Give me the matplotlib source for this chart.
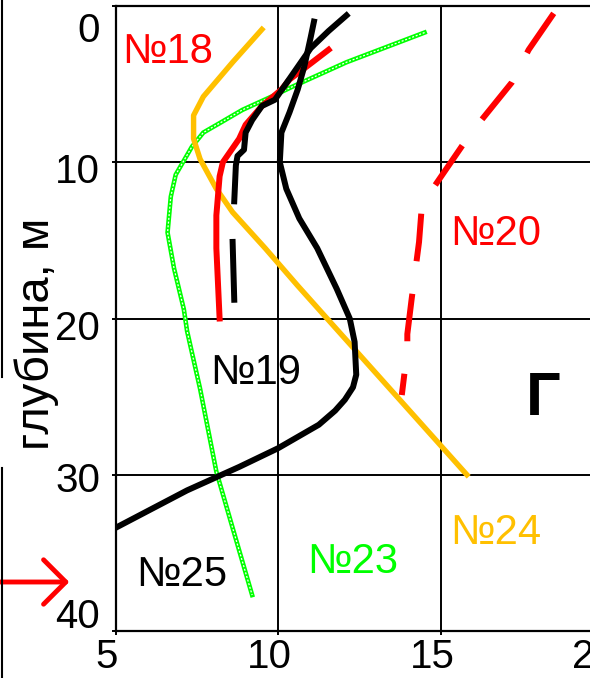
import matplotlib
matplotlib.use("Agg")
import matplotlib.pyplot as plt
import numpy as np
from matplotlib.lines import Line2D
from matplotlib.transforms import ScaledTranslation

plt.rcParams['font.family'] = ['Liberation Sans', 'DejaVu Sans']

# ── data: temperature (x) vs depth (y) ──────────────────────
t18 = [11.55, 11.05, 10.35, 10.1, 9.5, 9.0, 8.8, 8.5, 8.3, 8.2, 8.1, 8.1, 8.2]
d18 = [2.8, 3.6, 4.7, 5.35, 6.4, 7.6, 8.5, 9.4, 10.0, 10.9, 13.4, 15.5, 20.0]

t19 = [11.1, 11.0, 10.8, 10.6, 10.35, 10.1, 10.05, 10.25, 10.65, 11.2, 11.8,
       12.2, 12.35, 12.4, 12.3, 12.05, 11.75, 11.25, 10.0, 8.8, 7.2, 5.0]
d19 = [1.0, 2.0, 3.9, 5.35, 6.8, 8.1, 10.0, 11.7, 13.6, 15.5, 18.1,
       20.0, 21.5, 23.6, 24.4, 25.2, 25.9, 26.8, 28.3, 29.5, 31.0, 33.4]

t20 = [18.47, 17.7, 17.18, 16.17, 15.77, 14.42, 14.33, 14.1, 13.97, 13.97, 13.9, 13.8]
d20 = [0.47, 2.8, 4.9, 7.5, 8.6, 12.7, 15.1, 18.8, 21.0, 22.7, 23.2, 24.9]

t23 = [14.5, 12.1, 10.4, 9.9, 8.9, 8.2, 7.7, 7.35, 6.85, 6.7, 6.6, 6.8,
       7.1, 7.2, 7.6, 8.1, 8.6, 9.2]
d23 = [1.7, 3.6, 5.2, 5.7, 6.65, 7.5, 8.1, 9.0, 10.8, 12.2, 14.5, 16.8,
       19.4, 20.8, 24.5, 29.8, 33.4, 37.7]

t24 = [9.5, 8.6, 7.7, 7.4, 7.4, 7.6, 8.1, 8.6, 9.6, 10.6, 15.8]
d24 = [1.5, 3.6, 5.8, 7.0, 8.5, 9.8, 11.7, 13.2, 15.5, 17.9, 30.0]

# short black profile, record missing between ~12.5 and 15 m
t25 = [12.1, 11.55, 11.0, 10.4, 9.9, 9.5, 9.2, 9.0, 8.95, 8.75, 8.7, 8.65, np.nan, 8.6, 8.65]
d25 = [0.6, 1.6, 2.7, 4.5, 6.0, 6.4, 7.3, 8.1, 9.2, 9.6, 10.2, 12.5, np.nan, 15.1, 18.8]

labels = [  # text, x, y(baseline), colour
    ("№18", 5.21, 3.65, "#ff0000"),
    ("№20", 15.3, 15.3, "#ff0000"),
    ("№19", 7.9, 24.2, "black"),
    ("№24", 15.3, 34.4, "#ffc000"),
    ("№23", 10.9, 36.3, "#00ff00"),
    ("№25", 5.65, 37.1, "black"),
]

xticks = [5, 10, 15, 20]
yticks = [0, 10, 20, 30, 40]

fig = plt.figure(figsize=(5.9, 6.78), dpi=100)
ax = fig.add_axes([115.5 / 590, 1 - 631 / 678, 488 / 590, 625 / 678])

# №23 - green chain of small squares
ax.plot(t23, d23, color="#00ff00", lw=3.3, solid_joinstyle="miter", zorder=2)
ax.plot(t23, d23, color="white", lw=0.9, dashes=(1.6, 1.4), zorder=2.1)
# №24
ax.plot(t24, d24, color="#ffc000", lw=3.9, zorder=3)
# №18 / №20
ax.plot(t18, d18, color="#ff0000", lw=4.3, zorder=4)
ax.plot(t20, d20, color="#ff0000", lw=4.3, dashes=(8, 5.5), dash_capstyle="butt", zorder=4)
# №19 / №25
ax.plot(t19, d19, color="black", lw=4.3, zorder=5)
ax.plot(t25, d25, color="black", lw=4.3, zorder=5)

for txt, x, y, c in labels:
    ax.text(x, y, txt, color=c, fontsize=30, ha="left", va="baseline", zorder=6)
ax.text(17.6, 26.2, "Г", color="black", fontsize=44, fontweight="bold",
        ha="left", va="baseline", zorder=6)

ax.set_xlim(5, 20)
ax.set_ylim(40, 0)
ax.set_xticks(xticks)
ax.set_yticks(yticks)
ax.grid(True, color="black", lw=1.4)
ax.set_axisbelow(True)
for s in ax.spines.values():
    s.set_linewidth(1.6)
ax.tick_params(axis="both", direction="out", length=3, width=1.4,
               labelsize=29, colors="black")
ax.tick_params(axis="x", pad=2)
ax.tick_params(axis="y", pad=8)

# tick labels sit a little off their ticks in the original
for lab in ax.get_xticklabels():
    lab.set_transform(lab.get_transform() + ScaledTranslation(-0.09, 0, fig.dpi_scale_trans))
for lab, dy in zip(ax.get_yticklabels(), [-21, -6, -6, -2, 18]):
    lab.set_transform(lab.get_transform() + ScaledTranslation(0, dy / 100, fig.dpi_scale_trans))

fig.text(37 / 590, 1 - 334 / 678, "глубина, м", rotation=90, fontsize=34,
         ha="center", va="center")

# edge of the neighbouring panel and the red pointer
fig.add_artist(Line2D([2 / 590, 2 / 590], [1, 1 - 377 / 678], transform=fig.transFigure,
                      color="black", lw=1.5))
fig.add_artist(Line2D([2 / 590, 2 / 590], [1 - 468 / 678, 0], transform=fig.transFigure,
                      color="black", lw=1.5))
ax.annotate("", xy=(72, 678 - 582), xycoords="figure pixels",
            xytext=(-5, 678 - 582), textcoords="figure pixels",
            arrowprops=dict(arrowstyle="->,head_length=0.8,head_width=0.8",
                            color="#ff0000", lw=3.5, mutation_scale=20))

fig.savefig("out.png", dpi=100)
